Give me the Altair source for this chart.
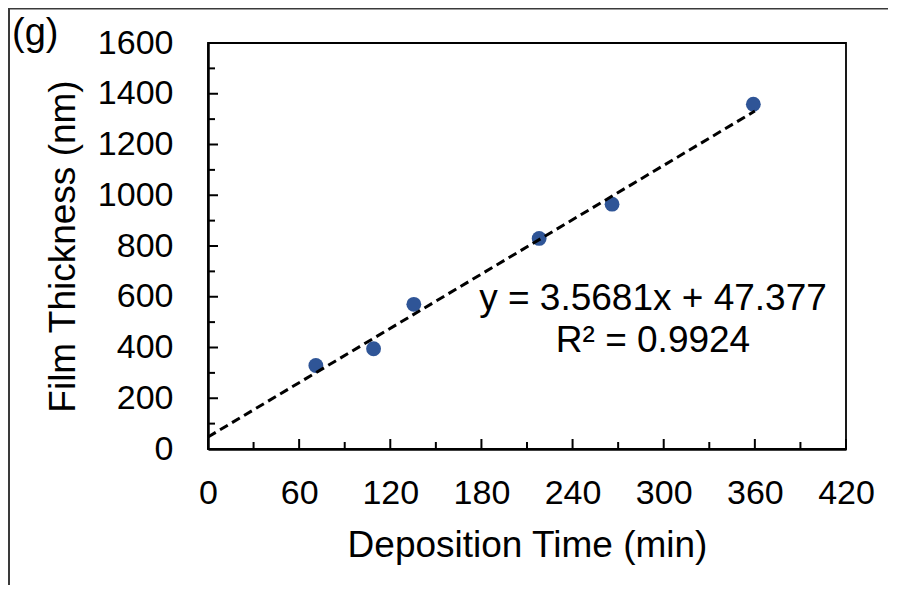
import altair as alt
import pandas as pd

# Data
time_min = [71, 109, 135.5, 218, 266, 359]
thickness_nm = [329, 395, 570, 830, 965, 1359]

# Printed trendline (Excel linear fit)
slope = 3.5681
intercept = 47.377
r_squared = 0.9924
trend_x = [0, 360]

x_ticks = [0, 60, 120, 180, 240, 300, 360, 420]
x_minor = [30, 90, 150, 210, 270, 330, 390]
y_ticks = [0, 200, 400, 600, 800, 1000, 1200, 1400, 1600]
y_minor = [100, 300, 500, 700, 900, 1100, 1300, 1500]

FONT = "Liberation Sans"

pts = pd.DataFrame({"t": time_min, "d": thickness_nm})
trend = pd.DataFrame({"t": trend_x})

xs = alt.Scale(domain=[0, 420], nice=False, zero=False)
ys = alt.Scale(domain=[0, 1600], nice=False, zero=False)

X_AXIS = alt.Axis(
    title="Deposition Time (min)", values=x_ticks, format="d", ticks=False, grid=False,
    domainColor="black", domainWidth=2.5, labelFont=FONT, labelFontSize=34,
    labelColor="black", labelPadding=27, labelFlush=False, labelOverlap=False,
    titleFont=FONT, titleFontSize=37,
    titleFontWeight="normal", titleColor="black", titlePadding=17)
Y_AXIS = alt.Axis(
    title="Film Thickness (nm)", values=y_ticks, format="d", ticks=False, grid=False,
    domainColor="black", domainWidth=2.5, labelFont=FONT, labelFontSize=34,
    labelColor="black", labelPadding=35, labelFlush=False, labelOverlap=False,
    titleFont=FONT, titleFontSize=37,
    titleFontWeight="normal", titleColor="black", titlePadding=15)

points = alt.Chart(pts).mark_circle(size=220, color="#2F5597", opacity=1).encode(
    x=alt.X("t:Q", scale=xs, axis=X_AXIS),
    y=alt.Y("d:Q", scale=ys, axis=Y_AXIS),
)

line = alt.Chart(trend).transform_calculate(
    d=f"{slope} * datum.t + {intercept}"
).mark_line(color="black", strokeWidth=3, strokeDash=[9, 5]).encode(
    x=alt.X("t:Q", scale=xs, axis=X_AXIS),
    y=alt.Y("d:Q", scale=ys, axis=Y_AXIS),
)

ymaj = alt.Chart(pd.DataFrame({"d": y_ticks})).mark_rule(color="black", strokeWidth=2).encode(
    y=alt.Y("d:Q", scale=ys, axis=Y_AXIS), x=alt.value(0), x2=alt.value(10))
ymin = alt.Chart(pd.DataFrame({"d": y_minor})).mark_rule(color="black", strokeWidth=2).encode(
    y=alt.Y("d:Q", scale=ys, axis=Y_AXIS), x=alt.value(0), x2=alt.value(7))
xmaj = alt.Chart(pd.DataFrame({"t": x_ticks})).mark_rule(color="black", strokeWidth=2).encode(
    x=alt.X("t:Q", scale=xs, axis=X_AXIS), y=alt.value(406), y2=alt.value(396))
xmin = alt.Chart(pd.DataFrame({"t": x_minor})).mark_rule(color="black", strokeWidth=2).encode(
    x=alt.X("t:Q", scale=xs, axis=X_AXIS), y=alt.value(406), y2=alt.value(399))

eq1 = alt.Chart(pd.DataFrame({"s": [f"y = {slope}x + {intercept}"]})).mark_text(
    font=FONT, fontSize=37, color="black", align="center", baseline="alphabetic"
).encode(text="s:N", x=alt.value(445), y=alt.value(267))
eq2 = alt.Chart(pd.DataFrame({"s": [f"R² = {r_squared}"]})).mark_text(
    font=FONT, fontSize=37, color="black", align="center", baseline="alphabetic"
).encode(text="s:N", x=alt.value(445), y=alt.value(309))

panel = alt.Chart(pd.DataFrame({"s": ["(g)"]})).mark_text(
    font=FONT, fontSize=38, color="black", align="left", baseline="alphabetic"
).encode(text="s:N", x=alt.value(-196), y=alt.value(1.5))

frame = alt.Chart(pd.DataFrame({"a": [0]})).mark_rect(
    fill="transparent", stroke="#3a3a3a", strokeWidth=2
).encode(x=alt.value(-199), x2=alt.value(900), y=alt.value(-34.5), y2=alt.value(700))

chart = alt.layer(points, line, ymaj, ymin, xmaj, xmin, eq1, eq2, panel, frame).properties(
    width=638, height=406,
    padding={"left": 200, "top": 35, "right": 42, "bottom": 136},
    autosize=alt.AutoSizeParams(type="none"),
    background="white",
).configure_view(stroke="black", strokeWidth=1.8)

chart.save("out.html", embed_options={"renderer": "svg", "actions": False})
